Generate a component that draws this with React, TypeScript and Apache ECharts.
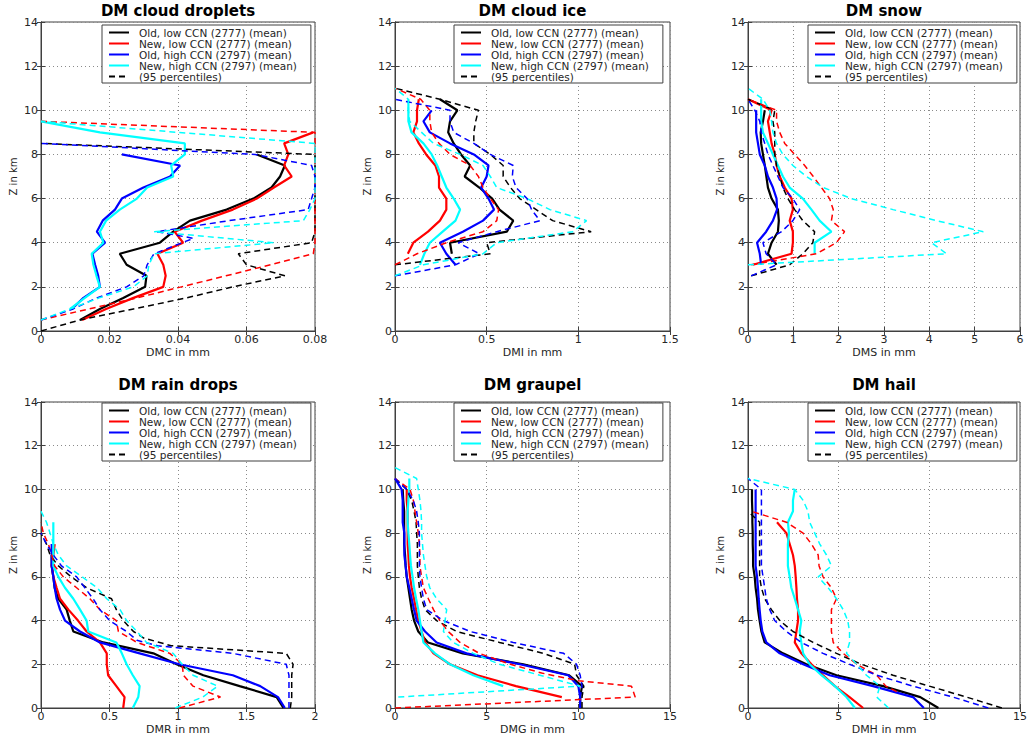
import { useEffect, useRef } from "react";
import * as echarts from "echarts";

type Pt = [number, number]; // [diameter in mm, Z in km]

// ---------- DM cloud droplets (DMC) ----------
const cOldLow: Pt[] = [[0.0114,0.5],[0.0172,1],[0.024,1.5],[0.0304,2],[0.0308,2.5],[0.025,3],[0.023,3.5],[0.0347,4],[0.0386,4.5],[0.0435,5],[0.0542,5.5],[0.062,6],[0.0673,6.5],[0.0698,7],[0.0712,7.5],[0.063,8]];
const cNewLow: Pt[] = [[0.012,0.5],[0.019,1],[0.027,1.5],[0.0357,2],[0.0364,2.5],[0.0357,3],[0.034,3.5],[0.0415,4],[0.039,4.5],[0.047,5],[0.056,5.5],[0.063,6],[0.068,6.5],[0.0732,7],[0.071,7.5],[0.0722,8],[0.071,8.5],[0.0795,9]];
const cOldHigh: Pt[] = [[0.009,1],[0.0124,1.5],[0.0172,2],[0.0167,2.5],[0.0158,3],[0.015,3.5],[0.0187,4],[0.0163,4.5],[0.018,5],[0.0216,5.5],[0.0236,6],[0.0299,6.5],[0.0377,7],[0.0406,7.5],[0.0236,8]];
const cNewHigh: Pt[] = [[0.0085,1],[0.0128,1.5],[0.0172,2],[0.0162,2.5],[0.0153,3],[0.0148,3.5],[0.0182,4],[0.0172,4.5],[0.019,5],[0.023,5.5],[0.028,6],[0.031,6.5],[0.0386,7],[0.038,7.5],[0.042,8],[0.042,8.5],[0.0172,9],[0,9.5]];
const cOldLowP95: Pt[] = [[0,0],[0.0114,0.5],[0.027,1],[0.0425,1.5],[0.056,2],[0.0712,2.5],[0.06,3],[0.0576,3.5],[0.079,4],[0.08,4.5],[0.08,5],[0.08,5.5],[0.08,6],[0.08,6.5],[0.08,7],[0.08,7.5],[0.08,8],[0,8.5]];
const cNewLowP95: Pt[] = [[0,0.5],[0.014,1],[0.028,1.5],[0.041,2],[0.054,2.5],[0.067,3],[0.0795,3.5],[0.08,4],[0.08,5],[0.08,6],[0.08,7],[0.08,8],[0.08,9],[0,9.5]];
const cOldHighP95: Pt[] = [[0,0.5],[0.0094,1],[0.0163,1.5],[0.025,2],[0.03,2.5],[0.031,3],[0.033,3.5],[0.0445,4.2],[0.0338,4.5],[0.055,5],[0.078,5.5],[0.079,6],[0.08,6.5],[0.08,7],[0.079,7.5],[0.0625,8],[0,8.5]];
const cNewHighP95: Pt[] = [[0,0.5],[0.0085,1],[0.017,1.5],[0.027,2],[0.031,2.5],[0.0315,3],[0.033,3.5],[0.068,4],[0.033,4.5],[0.0766,5],[0.0785,5.5],[0.08,6],[0.08,7],[0.08,8],[0.08,8.5],[0.04,9],[0,9.5]];

// ---------- DM cloud ice (DMI) ----------
const iOldLow: Pt[] = [[0.31,3.5],[0.3,4],[0.61,4.5],[0.645,5],[0.57,5.5],[0.53,6],[0.46,6.5],[0.38,7],[0.41,7.5],[0.36,8],[0.32,8.5],[0.29,9],[0.3,9.5],[0.34,10],[0.245,10.5]];
const iNewLow: Pt[] = [[0.07,3.5],[0.1,4],[0.18,4.5],[0.245,5],[0.28,5.5],[0.28,6],[0.24,6.5],[0.24,7],[0.22,7.5],[0.17,8],[0.13,8.5],[0.1,9],[0.12,9.5],[0.12,10],[0.13,10.5]];
const iOldHigh: Pt[] = [[0.33,3],[0.28,3.5],[0.245,4],[0.37,4.5],[0.48,5],[0.54,5.5],[0.51,6],[0.47,6.5],[0.5,7],[0.51,7.5],[0.43,8],[0.3,8.5],[0.19,9],[0.155,9.5],[0.2,10]];
const iNewHigh: Pt[] = [[0.136,3],[0.16,3.5],[0.19,4],[0.26,4.5],[0.33,5],[0.355,5.5],[0.32,6],[0.28,6.5],[0.255,7],[0.23,7.5],[0.2,8],[0.155,8.5],[0.09,9],[0.073,9.5],[0.073,10],[0.073,10.5]];
const iOldLowP95: Pt[] = [[0,3],[0.52,3.5],[0.5,4],[1.07,4.5],[0.86,5],[0.77,5.5],[0.68,6],[0.63,6.5],[0.59,7],[0.59,7.5],[0.52,8],[0.43,8.5],[0.43,9],[0.44,9.5],[0.455,10],[0.245,10.5],[0,11]];
const iNewLowP95: Pt[] = [[0,3],[0.12,3.5],[0.28,4],[0.48,4.5],[0.555,5],[0.565,5.5],[0.52,6],[0.48,6.5],[0.455,7],[0.41,7.5],[0.3,8],[0.24,8.5],[0.2,9],[0.19,9.5],[0.19,10],[0.14,10.5],[0,11]];
const iOldHighP95: Pt[] = [[0,2.5],[0.33,3],[0.46,3.5],[0.345,4],[0.555,4.5],[0.79,5],[0.745,5.5],[0.72,6],[0.66,6.5],[0.64,7],[0.645,7.5],[0.52,8],[0.43,8.5],[0.32,9],[0.3,9.5],[0.3,10],[0,10.5]];
const iNewHighP95: Pt[] = [[0,2.5],[0.155,3],[0.48,3.5],[0.555,4],[0.97,4.5],[1.045,5],[0.845,5.5],[0.72,6],[0.555,6.5],[0.52,7],[0.48,7.5],[0.355,8],[0.21,8.5],[0.145,9],[0.08,9.5],[0.073,10],[0.073,10.5],[0,11]];

// ---------- DM snow (DMS) ----------
const sOldLow: Pt[] = [[0.63,3],[0.44,3.5],[0.52,4],[0.66,4.5],[0.68,5],[0.66,5.5],[0.52,6],[0.44,6.5],[0.405,7],[0.37,7.5],[0.33,8],[0.29,8.5],[0.28,9],[0.33,9.5],[0.37,10]];
const sNewLow: Pt[] = [[0.11,3],[0.96,3.5],[0.99,4],[0.99,4.5],[0.92,5],[0.99,5.5],[0.96,6],[0.81,6.5],[0.7,7],[0.63,7.5],[0.59,8],[0.52,8.5],[0.48,9],[0.44,9.5],[0.52,10],[0,10.5]];
const sOldHigh: Pt[] = [[0.29,3],[0.26,3.5],[0.2,4],[0.4,4.5],[0.55,5],[0.64,5.5],[0.63,6],[0.55,6.5],[0.44,7],[0.37,7.5],[0.26,8],[0.22,8.5],[0.18,9],[0.18,9.5],[0.18,10]];
const sNewHigh: Pt[] = [[1.47,3.5],[1.47,4],[1.84,4.5],[1.58,5],[1.4,5.5],[1.21,6],[0.92,6.5],[0.77,7],[0.66,7.5],[0.55,8],[0.44,8.5],[0.33,9],[0.29,9.5],[0.29,10],[0.29,10.5]];
const sOldLowP95: Pt[] = [[0.07,2.5],[0.92,3],[1.21,3.5],[1.43,4],[1.47,4.5],[1.21,5],[1.03,5.5],[0.88,6],[0.77,6.5],[0.7,7],[0.63,7.5],[0.59,8],[0.59,8.5],[0.59,9],[0.55,9.5],[0.59,10],[0,10.5]];
const sNewLowP95: Pt[] = [[0.07,3],[1.51,3.5],[1.95,4],[2.13,4.5],[1.84,5],[1.88,5.5],[1.8,6],[1.62,6.5],[1.44,7],[1.25,7.5],[1.03,8],[0.81,8.5],[0.7,9],[0.63,9.5],[0.63,10],[0,10.5]];
const sOldHighP95: Pt[] = [[0.07,2.5],[0.63,3],[0.4,3.5],[0.33,4],[0.74,4.5],[0.99,5],[1.14,5.5],[0.99,6],[0.77,6.5],[0.66,7],[0.55,7.5],[0.44,8],[0.37,8.5],[0.29,9],[0.26,9.5],[0.15,10],[0,10.5]];
const sNewHighP95: Pt[] = [[0,3],[4.38,3.5],[4.05,4],[5.19,4.5],[4.16,5],[3.2,5.5],[2.28,6],[1.66,6.5],[1.29,7],[0.99,7.5],[0.77,8],[0.63,8.5],[0.55,9],[0.52,9.5],[0.48,10],[0.33,10.5],[0,11]];

// ---------- DM rain drops (DMR) ----------
const rOldLow: Pt[] = [[1.77,0],[1.72,0.5],[1.45,1],[1.185,1.5],[0.99,2],[0.82,2.5],[0.455,3],[0.236,3.5],[0.21,4],[0.187,4.5],[0.127,5],[0.1,5.5],[0.09,6],[0.078,6.5],[0.078,7]];
const rNewLow: Pt[] = [[0.6,0],[0.61,0.5],[0.55,1],[0.49,1.5],[0.48,2],[0.48,2.5],[0.43,3],[0.333,3.5],[0.27,4],[0.2,4.5],[0.139,5],[0.114,5.5],[0.09,6],[0.078,6.5],[0.09,7],[0.1,7.5]];
const rOldHigh: Pt[] = [[1.78,0],[1.73,0.5],[1.6,1],[1.4,1.5],[1.01,2],[0.72,2.5],[0.43,3],[0.285,3.5],[0.175,4],[0.139,4.5],[0.114,5],[0.1,5.5],[0.09,6],[0.078,6.5],[0.078,7],[0.078,7.5]];
const rNewHigh: Pt[] = [[0.67,0],[0.71,0.5],[0.72,1],[0.67,1.5],[0.625,2],[0.59,2.5],[0.55,3],[0.345,3.5],[0.333,4],[0.285,4.5],[0.236,5],[0.175,5.5],[0.127,6],[0.09,6.5],[0.09,7],[0.09,7.5],[0.09,8],[0.09,8.5]];
const rOldLowP95: Pt[] = [[1.82,0],[1.83,0.5],[1.83,1],[1.83,1.5],[1.84,2],[1.79,2.5],[0.95,2.85],[0.75,3.2],[0.675,3.5],[0.6,4],[0.55,4.5],[0.515,5],[0.333,5.5],[0.22,6],[0.127,6.5],[0.066,7],[0.04,7.5],[0,8]];
const rNewLowP95: Pt[] = [[1.01,0],[1.31,0.5],[1.11,1],[1.04,1.5],[1.03,2],[0.94,2.5],[0.7,3],[0.565,3.5],[0.55,4],[0.43,4.5],[0.357,5],[0.26,5.5],[0.163,6],[0.1,6.5],[0.078,7],[0.054,7.5],[0.017,8],[0,8.5]];
const rOldHighP95: Pt[] = [[1.81,0],[1.81,0.5],[1.81,1],[1.81,1.5],[1.79,2],[1.4,2.5],[0.85,2.85],[0.7,3.1],[0.625,3.5],[0.5,4],[0.43,4.5],[0.38,5],[0.32,5.5],[0.26,6],[0.15,6.5],[0.09,7],[0.04,7.5],[0,8]];
const rNewHighP95: Pt[] = [[0.98,0],[1.18,0.5],[1.29,1],[1.11,1.5],[1.03,2],[0.965,2.5],[0.77,3],[0.7,3.5],[0.625,4],[0.577,4.5],[0.48,5],[0.41,5.5],[0.3,6],[0.187,6.5],[0.127,7],[0.09,7.5],[0.066,8],[0.04,8.5],[0,9]];

// ---------- DM graupel (DMG) ----------
const gOldLow: Pt[] = [[10.1,0],[10.1,0.5],[10.2,1],[9.5,1.5],[7.0,2],[3.7,2.5],[1.8,3],[1.27,3.5],[1.04,4],[0.91,4.5],[0.82,5],[0.73,5.5],[0.64,6],[0.58,6.5],[0.55,7],[0.5,7.5],[0.5,8],[0.5,8.5],[0.5,9],[0.45,9.5],[0.42,10]];
const gNewLow: Pt[] = [[9.1,0.5],[6.6,1],[4.5,1.5],[3.0,2],[2.1,2.5],[1.64,3],[1.45,3.5],[1.27,4],[1.15,4.5],[1.04,5],[0.91,5.5],[0.82,6],[0.76,6.5],[0.73,7],[0.69,7.5],[0.69,8],[0.69,8.5],[0.69,9],[0.64,9.5],[0.64,10]];
const gOldHigh: Pt[] = [[10.1,0],[10.1,0.5],[10.0,1],[9.45,1.5],[6.8,2],[3.9,2.5],[2.27,3],[1.64,3.5],[1.18,4],[1.04,4.5],[0.91,5],[0.78,5.5],[0.64,6],[0.58,6.5],[0.51,7],[0.51,7.5],[0.51,8],[0.42,8.5],[0.42,9],[0.42,9.5],[0.36,10],[0,10.5]];
const gNewHigh: Pt[] = [[5.9,1],[4.27,1.5],[3.0,2],[2.18,2.5],[1.55,3],[1.45,3.5],[1.36,4],[1.27,4.5],[1.15,5],[1.04,5.5],[0.96,6],[0.87,6.5],[0.82,7],[0.78,7.5],[0.73,8],[0.69,8.5],[0.69,9],[0.73,9.5],[0.78,10],[0.78,10.5]];
const gOldLowP95: Pt[] = [[10.2,0],[10.2,0.5],[10.3,1],[9.9,1.5],[9.8,2],[8.1,2.5],[5.7,3],[3.36,3.5],[2.27,4],[1.64,4.5],[1.45,5],[1.33,5.5],[1.27,6],[1.22,6.5],[1.22,7],[1.22,7.5],[1.18,8],[1.15,8.5],[1.04,9],[0.91,9.5],[0.64,10],[0,10.5]];
const gNewLowP95: Pt[] = [[0,0],[13.1,0.5],[12.9,1],[10.0,1.25],[8.0,1.6],[6.3,2],[4.6,2.5],[3.55,3],[2.9,3.5],[2.45,4],[2.1,4.5],[1.82,5],[1.55,5.5],[1.45,6],[1.36,6.5],[1.36,7],[1.33,7.5],[1.27,8],[1.18,8.5],[1.09,9],[1.0,9.5],[0.82,10],[0,10.5]];
const gOldHighP95: Pt[] = [[10.1,0],[10.1,0.5],[10.2,1],[10.1,1.5],[9.9,2],[9.2,2.5],[6.45,3],[4.1,3.5],[2.64,4],[1.73,4.5],[1.55,5],[1.45,5.5],[1.36,6],[1.33,6.5],[1.33,7],[1.33,7.5],[1.33,8],[1.27,8.5],[1.18,9],[1.0,9.5],[0.64,10],[0,10.5]];
const gNewHighP95: Pt[] = [[0.18,0.5],[10.1,1],[7.9,1.5],[5.7,2],[4.27,2.5],[3.18,3],[2.64,3.5],[2.73,4],[2.82,4.5],[2.27,5],[1.9,5.5],[1.73,6],[1.64,6.5],[1.55,7],[1.5,7.5],[1.45,8],[1.45,8.5],[1.42,9],[1.36,9.5],[1.27,10],[1.18,10.5],[0,11]];

// ---------- DM hail (DMH) ----------
const hOldLow: Pt[] = [[10.5,0],[9.5,0.5],[7.45,1],[4.88,1.5],[3.22,2],[1.93,2.5],[0.92,3],[0.74,3.5],[0.64,4],[0.55,4.5],[0.5,5],[0.42,5.5],[0.37,6],[0.28,6.5],[0.28,7],[0.26,7.5],[0.26,8],[0.24,8.5],[0.24,9],[0.22,9.5],[0.22,10]];
const hNewLow: Pt[] = [[6.35,0],[5.6,0.5],[4.79,1],[4.14,1.5],[3.5,2],[2.94,2.5],[2.58,3],[2.67,3.5],[2.76,4],[2.76,4.5],[2.7,5],[2.67,5.5],[2.63,6],[2.58,6.5],[2.48,7],[2.3,7.5],[2.12,8],[1.6,8.5]];
const hOldHigh: Pt[] = [[9.7,0],[9.1,0.5],[6.9,1],[4.5,1.5],[3.04,2],[1.75,2.5],[1.01,3],[0.79,3.5],[0.7,4],[0.64,4.5],[0.59,5],[0.55,5.5],[0.5,6],[0.42,6.5],[0.42,7],[0.42,7.5],[0.42,8],[0.42,8.5],[0.42,9],[0.42,9.5],[0.42,10]];
const hNewHigh: Pt[] = [[5.9,0],[5.43,0.5],[4.79,1],[4.05,1.5],[3.4,2],[3.04,2.5],[2.94,3],[2.85,3.5],[2.94,4],[2.76,4.5],[2.58,5],[2.39,5.5],[2.3,6],[2.2,6.5],[2.2,7],[2.2,7.5],[2.26,8],[2.2,8.5],[2.48,9],[2.48,9.5],[2.58,10]];
const hOldLowP95: Pt[] = [[14.0,0],[12.05,0.5],[10.0,1],[8.0,1.5],[6.26,2],[4.88,2.5],[3.59,3],[2.48,3.5],[1.75,4],[1.29,4.5],[0.92,5],[0.74,5.5],[0.64,6],[0.64,6.5],[0.64,7],[0.64,7.5],[0.64,8],[0.64,8.5],[0,9]];
const hNewLowP95: Pt[] = [[8.2,0.75],[7.6,1],[7.1,1.5],[6.0,2],[5.25,2.5],[4.7,3],[4.6,3.5],[4.6,4],[4.6,4.5],[4.88,5],[4.6,5.5],[4.14,6],[3.92,6.5],[3.87,7],[3.5,7.5],[3.04,8],[2.12,8.5],[0.18,9]];
const hOldHighP95: Pt[] = [[13.25,0],[11.3,0.5],[9.1,1],[7.1,1.5],[5.6,2],[4.14,2.5],[2.94,3],[2.12,3.5],[1.47,4],[1.2,4.5],[1.01,5],[0.92,5.5],[0.83,6],[0.74,6.5],[0.74,7],[0.74,7.5],[0.74,8],[0.74,8.5],[0.74,9],[0.74,9.5],[0.74,10],[0,10.5]];
const hNewHighP95: Pt[] = [[7.75,0],[7.1,0.5],[7.27,1],[6.53,1.5],[6.0,2],[5.43,2.5],[5.6,3],[5.6,3.5],[5.5,4],[5.25,4.5],[4.88,5],[4.42,5.5],[3.87,6],[4.6,6.5],[4.33,7],[3.96,7.5],[3.68,8],[3.4,8.5],[3.31,9],[3.04,9.5],[2.58,10],[0,10.5]];

const titles = ["DM cloud droplets", "DM cloud ice", "DM snow", "DM rain drops", "DM graupel", "DM hail"];
const xNames = ["DMC in mm", "DMI in mm", "DMS in mm", "DMR in mm", "DMG in mm", "DMH in mm"];
const xMaxes = [0.08, 1.5, 6, 2, 15, 15];
const xSteps = [0.02, 0.5, 1, 0.5, 5, 5];
const zTicks = { min: 0, max: 14, step: 2 };
const meanNames = [
  "Old, low CCN (2777) (mean)",
  "New, low CCN (2777) (mean)",
  "Old, high CCN (2797) (mean)",
  "New, high CCN (2797) (mean)",
];
const p95Name = "(95 percentiles)";
const means: Pt[][][] = [
  [cOldLow, cNewLow, cOldHigh, cNewHigh],
  [iOldLow, iNewLow, iOldHigh, iNewHigh],
  [sOldLow, sNewLow, sOldHigh, sNewHigh],
  [rOldLow, rNewLow, rOldHigh, rNewHigh],
  [gOldLow, gNewLow, gOldHigh, gNewHigh],
  [hOldLow, hNewLow, hOldHigh, hNewHigh],
];
const p95s: Pt[][][] = [
  [cOldLowP95, cNewLowP95, cOldHighP95, cNewHighP95],
  [iOldLowP95, iNewLowP95, iOldHighP95, iNewHighP95],
  [sOldLowP95, sNewLowP95, sOldHighP95, sNewHighP95],
  [rOldLowP95, rNewLowP95, rOldHighP95, rNewHighP95],
  [gOldLowP95, gNewLowP95, gOldHighP95, gNewHighP95],
  [hOldLowP95, hNewLowP95, hOldHighP95, hNewHighP95],
];

// ---------- layout / style ----------
const COLORS = ["#000000", "#ff0000", "#0000ff", "#00ffff"];
const FONT = "DejaVu Sans";
const FRAME = "#404040";
const TEXT = "#262626";
const GRIDS = [
  { left: 41, top: 22, width: 274, height: 309 },
  { left: 395, top: 22, width: 275, height: 309 },
  { left: 748, top: 22, width: 272, height: 309 },
  { left: 41, top: 402, width: 274, height: 308 },
  { left: 395, top: 402, width: 275, height: 308 },
  { left: 748, top: 402, width: 272, height: 308 },
];
const LEGEND_POS = [
  { left: 102, top: 25 },
  { left: 454, top: 25 },
  { left: 808, top: 25 },
  { left: 102, top: 403 },
  { left: 454, top: 403 },
  { left: 808, top: 403 },
];
const TITLE_TOPS = [3, 3, 3, 377, 377, 377];

const fmt = (v: number) => String(parseFloat(v.toFixed(3)));

function buildOption() {
  const grid: any[] = [];
  const xAxis: any[] = [];
  const yAxis: any[] = [];
  const xMirror: any[] = [];
  const yMirror: any[] = [];
  const title: any[] = [];
  const legend: any[] = [];
  const series: any[] = [];

  const tick = { show: true, inside: true, length: 4, lineStyle: { color: FRAME } };
  const split = { show: true, lineStyle: { color: "#8a8a8a", type: [1, 3], width: 1 } };

  for (let i = 0; i < 6; i++) {
    const g = GRIDS[i];
    grid.push({ ...g, show: true, borderColor: FRAME, borderWidth: 1, containLabel: false });
    title.push({
      text: titles[i],
      left: g.left + g.width / 2,
      top: TITLE_TOPS[i],
      textAlign: "center",
      padding: 0,
      textStyle: { fontFamily: FONT, fontSize: 15, fontWeight: "bold", color: "#000" },
    });
    xAxis.push({
      type: "value",
      gridIndex: i,
      position: "bottom",
      min: 0,
      max: xMaxes[i],
      interval: xSteps[i],
      name: xNames[i],
      nameLocation: "middle",
      nameGap: 16,
      nameTextStyle: { fontFamily: FONT, fontSize: 11, color: TEXT },
      axisLine: { show: true, lineStyle: { color: FRAME, width: 1 } },
      axisTick: tick,
      axisLabel: { fontFamily: FONT, fontSize: 11, color: TEXT, margin: 3, formatter: fmt },
      splitLine: split,
    });
    yAxis.push({
      type: "value",
      gridIndex: i,
      position: "left",
      min: zTicks.min,
      max: zTicks.max,
      interval: zTicks.step,
      name: "Z in km",
      nameLocation: "middle",
      nameGap: 23,
      nameTextStyle: { fontFamily: FONT, fontSize: 10, color: TEXT },
      axisLine: { show: true, lineStyle: { color: FRAME, width: 1 } },
      axisTick: tick,
      axisLabel: { fontFamily: FONT, fontSize: 11, color: TEXT, margin: 3 },
      splitLine: split,
    });
    xMirror.push({
      type: "value",
      gridIndex: i,
      position: "top",
      min: 0,
      max: xMaxes[i],
      interval: xSteps[i],
      axisLine: { show: true, lineStyle: { color: FRAME, width: 1 } },
      axisTick: tick,
      axisLabel: { show: false },
      splitLine: { show: false },
    });
    yMirror.push({
      type: "value",
      gridIndex: i,
      position: "right",
      min: zTicks.min,
      max: zTicks.max,
      interval: zTicks.step,
      axisLine: { show: true, lineStyle: { color: FRAME, width: 1 } },
      axisTick: tick,
      axisLabel: { show: false },
      splitLine: { show: false },
    });
    legend.push({
      orient: "vertical",
      left: LEGEND_POS[i].left,
      top: LEGEND_POS[i].top,
      data: [...meanNames, p95Name],
      backgroundColor: "#fff",
      borderColor: FRAME,
      borderWidth: 1,
      borderRadius: 0,
      padding: [2, 14, 1, 6],
      itemGap: 0,
      itemWidth: 20,
      itemHeight: 8,
      selectedMode: false,
      itemStyle: { opacity: 0 },
      textStyle: { fontFamily: FONT, fontSize: 10.5, color: TEXT, padding: [0, 0, 0, 5] },
    });

    means[i].forEach((d, k) => {
      series.push({
        type: "line",
        name: meanNames[k],
        xAxisIndex: i,
        yAxisIndex: i,
        data: d,
        symbol: "none",
        showSymbol: false,
        silent: true,
        lineStyle: { color: COLORS[k], width: 2.2, type: "solid" },
        itemStyle: { color: COLORS[k] },
      });
    });
    p95s[i].forEach((d, k) => {
      series.push({
        type: "line",
        name: k === 0 ? p95Name : meanNames[k] + " p95",
        xAxisIndex: i,
        yAxisIndex: i,
        data: d,
        symbol: "none",
        showSymbol: false,
        silent: true,
        lineStyle: { color: COLORS[k], width: 1.5, type: [6, 4] },
        itemStyle: { color: COLORS[k] },
      });
    });
  }

  return {
    animation: false,
    backgroundColor: "#fff",
    title,
    grid,
    xAxis: [...xAxis, ...xMirror],
    yAxis: [...yAxis, ...yMirror],
    legend,
    series,
  };
}

export default function App() {
  const ref = useRef<HTMLDivElement>(null);
  useEffect(() => {
    if (!ref.current) return;
    const chart = echarts.init(ref.current, undefined, { renderer: "svg" });
    chart.setOption(buildOption() as any);
    return () => chart.dispose();
  }, []);
  return (
    <div
      ref={ref}
      style={{ position: "absolute", left: 0, top: 0, width: 1032, height: 736, background: "#fff" }}
    />
  );
}
